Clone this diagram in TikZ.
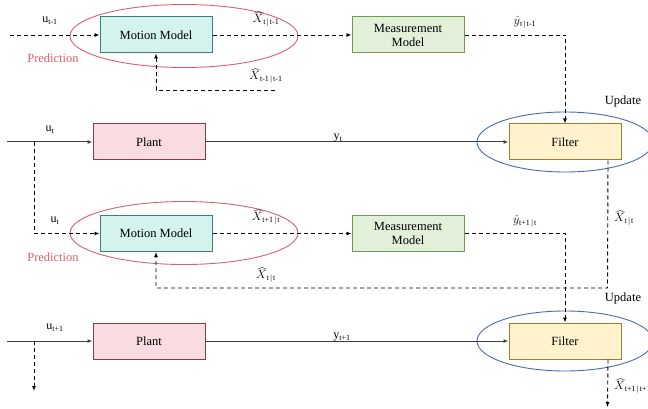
\documentclass[tikz,border=0pt]{standalone}
\usepackage{fontspec}
\setmainfont{Liberation Serif}
\usetikzlibrary{arrows.meta,shapes.geometric}
\definecolor{mmfill}{HTML}{D4F2EE}
\definecolor{mmdraw}{HTML}{3E7D78}
\definecolor{msfill}{HTML}{E2EFD9}
\definecolor{msdraw}{HTML}{6F9A52}
\definecolor{plfill}{HTML}{F9DCE1}
\definecolor{pldraw}{HTML}{8E3B47}
\definecolor{flfill}{HTML}{FFF2CC}
\definecolor{fldraw}{HTML}{9C7E2E}
\definecolor{predred}{HTML}{D95F6E}
\definecolor{updblue}{HTML}{4A6AAC}
\tikzset{
  blockbox/.style={rectangle, line width=1pt, minimum width=112pt, minimum height=36pt,
    inner sep=0pt, font=\fontsize{12.5}{14}\selectfont, align=center},
  mmbox/.style={blockbox, fill=mmfill, draw=mmdraw},
  msbox/.style={blockbox, fill=msfill, draw=msdraw},
  plbox/.style={blockbox, fill=plfill, draw=pldraw},
  flbox/.style={blockbox, fill=flfill, draw=fldraw},
  predell/.style={ellipse, draw=predred, line width=0.9pt, minimum width=228pt, minimum height=63pt, inner sep=0pt},
  updell/.style={ellipse, draw=updblue, line width=0.9pt, minimum width=176pt, minimum height=60pt, inner sep=0pt},
  dline/.style={line width=0.9pt, dash pattern=on 4pt off 3pt, -{Latex[length=5pt,width=4pt]}},
  sline/.style={line width=1pt, draw=black!75, -{Latex[length=5pt,width=4pt]}},
  lbl/.style={font=\fontsize{12}{14}\selectfont, inner sep=0pt},
  predtxt/.style={font=\fontsize{12.5}{14}\selectfont, text=predred, inner sep=0pt},
  updtxt/.style={font=\fontsize{12.5}{14}\selectfont, inner sep=0pt},
}
\begin{document}
\begin{tikzpicture}[x=1pt,y=-1pt]
\useasboundingbox (0,0) rectangle (648,409);
\clip (0,0) rectangle (648,409);
% ellipses
\node[predell] (pe1) at (184,36) {};
\node[predell] (pe2) at (184,233) {};
\node[updell] (ue1) at (565,142) {};
\node[updell] (ue2) at (565,341) {};
% blocks
\node[mmbox] (mm1) at (156,35) {Motion Model};
\node[msbox] (ms1) at (408,35) {Measurement\\Model};
\node[plbox] (pl1) at (149,142) {Plant};
\node[flbox] (fl1) at (565,142) {Filter};
\node[mmbox] (mm2) at (156,233.5) {Motion Model};
\node[msbox] (ms2) at (408,233.5) {Measurement\\Model};
\node[plbox] (pl2) at (149,341) {Plant};
\node[flbox] (fl2) at (565,341) {Filter};
% free ends
\coordinate (in1) at (10,35);
\coordinate (fb1) at (275,90);
\coordinate (uin1) at (7,142);
\coordinate (br1) at (34,142);
\coordinate (fb2) at (607.5,288);
\coordinate (uin2) at (7,341);
\coordinate (br2) at (34,341);
\coordinate (br2end) at (34,391);
\coordinate (out2) at (607.5,407);
% connectors
\draw[dline] (in1) -- (mm1);
\draw[dline] (mm1) -- (ms1);
\draw[dline] (ms1.east) -| (fl1.north);
\draw[dline] (fb1) -| (mm1.south);
\draw[sline] (uin1) -- (pl1);
\draw[sline] (pl1) -- (fl1);
\draw[dline] (br1) |- (mm2.west);
\draw[dline] ([xshift=-13.5pt]fl1.south east) -- (fb2) -| (mm2.south);
\draw[dline] (mm2) -- (ms2);
\draw[dline] (ms2.east) -| (fl2.north);
\draw[sline] (uin2) -- (pl2);
\draw[sline] (pl2) -- (fl2);
\draw[dline] (br2) -- (br2end);
\draw[dline] ([xshift=-13.5pt]fl2.south east) -- (out2);
% labels
\node[lbl] (l1) at (50,21) {u\textsubscript{t-1}};
\node[predtxt] (p1) at (53,58) {Prediction};
\node[lbl] (l2) at (266,19) {$\widehat{X}$\textsubscript{t\,|\,t-1}};
\node[lbl] (l3) at (266,76) {$\widehat{X}$\textsubscript{t-1\,|\,t-1}};
\node[lbl] (l4) at (525,22) {$\hat{y}$\textsubscript{t\,|\,t-1}};
\node[updtxt] (up1) at (623,101) {Update};
\node[lbl] (l5) at (50,130) {u\textsubscript{t}};
\node[lbl] (l6) at (338,138) {y\textsubscript{t}};
\node[lbl] (l7) at (55,221) {u\textsubscript{t}};
\node[predtxt] (p2) at (53,257) {Prediction};
\node[lbl] (l8) at (266,217) {$\widehat{X}$\textsubscript{t+1\,|\,t}};
\node[lbl] (l9) at (266,275) {$\widehat{X}$\textsubscript{t\,|\,t}};
\node[lbl] (l10) at (525,221) {$\hat{y}$\textsubscript{t+1\,|\,t}};
\node[lbl] (l11) at (624,218) {$\widehat{X}$\textsubscript{t\,|\,t}};
\node[updtxt] (up2) at (623,298) {Update};
\node[lbl] (l12) at (55,328) {u\textsubscript{t+1}};
\node[lbl] (l13) at (342,337) {y\textsubscript{t+1}};
\node[lbl,anchor=west] (l14) at (614,386) {$\widehat{X}$\textsubscript{t+1\,|\,t+1}};
\end{tikzpicture}
\end{document}
